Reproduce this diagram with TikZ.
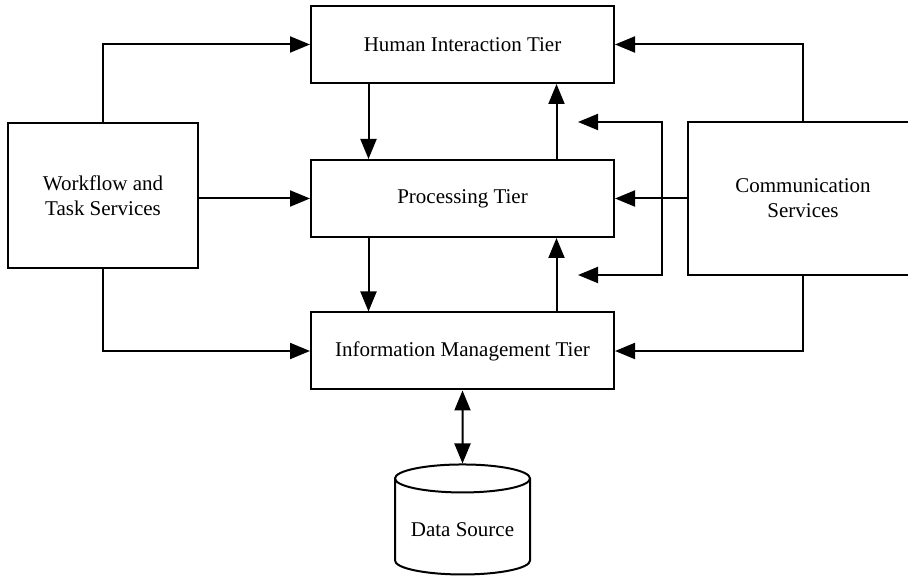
\documentclass[tikz,border=0pt]{standalone}
\usepackage{fontspec}
\setmainfont{Liberation Serif}
\usetikzlibrary{arrows.meta,shapes.geometric}
\begin{document}
\begin{tikzpicture}[x=0.5pt, y=-0.5pt, >={Triangle[length=10pt,width=8pt]}, line width=1pt,
  tier/.style={draw, minimum width=151.5pt, minimum height=38.5pt, font=\fontsize{10.5}{12.5}\selectfont},
  side/.style={draw, align=center, font=\fontsize{10.5}{12.5}\selectfont}]
\useasboundingbox (0,0) rectangle (908,581);

\node[tier] (human) at (462.5,44.5) {Human Interaction Tier};
\node[tier] (proc) at (462.5,198.5) {Processing Tier};
\node[tier] (info) at (462.5,351) {Information Management Tier};

\node[side, minimum width=95pt, minimum height=72.5pt] (work) at (103,196) {Workflow and\\Task Services};
\node[side, minimum width=115pt, minimum height=76.5pt] (comm) at (803,198.5) {Communication\\Services};

\node[draw, cylinder, shape border rotate=90, aspect=0.24, minimum width=67.5pt, minimum height=55pt,
  font=\fontsize{10.5}{12.5}\selectfont] (data) at (462.5,530) {Data Source};

\coordinate (junc) at (662,198.5);
\coordinate (free1) at (578,122);
\coordinate (free2) at (578,275);

\draw [->] (work.north) |- (human.west);
\draw [->] (work.east |- proc.west) -- (proc.west);
\draw [->] (work.south) |- (info.west);

\draw [->] ([xshift=-47pt]human.south) -- ([xshift=-47pt]proc.north);
\draw [->] ([xshift=47pt]proc.north) -- ([xshift=47pt]human.south);
\draw [->] ([xshift=-47pt]proc.south) -- ([xshift=-47pt]info.north);
\draw [->] ([xshift=47pt]info.north) -- ([xshift=47pt]proc.south);

\draw [->] (comm.north) |- (human.east);
\draw [->] (comm.west) -- (proc.east);
\draw [->] (comm.south) |- (info.east);
\draw [->] (junc) |- (free1);
\draw [->] (junc) |- (free2);

\draw [<->] (info.south) -- (data.north);
\end{tikzpicture}
\end{document}
